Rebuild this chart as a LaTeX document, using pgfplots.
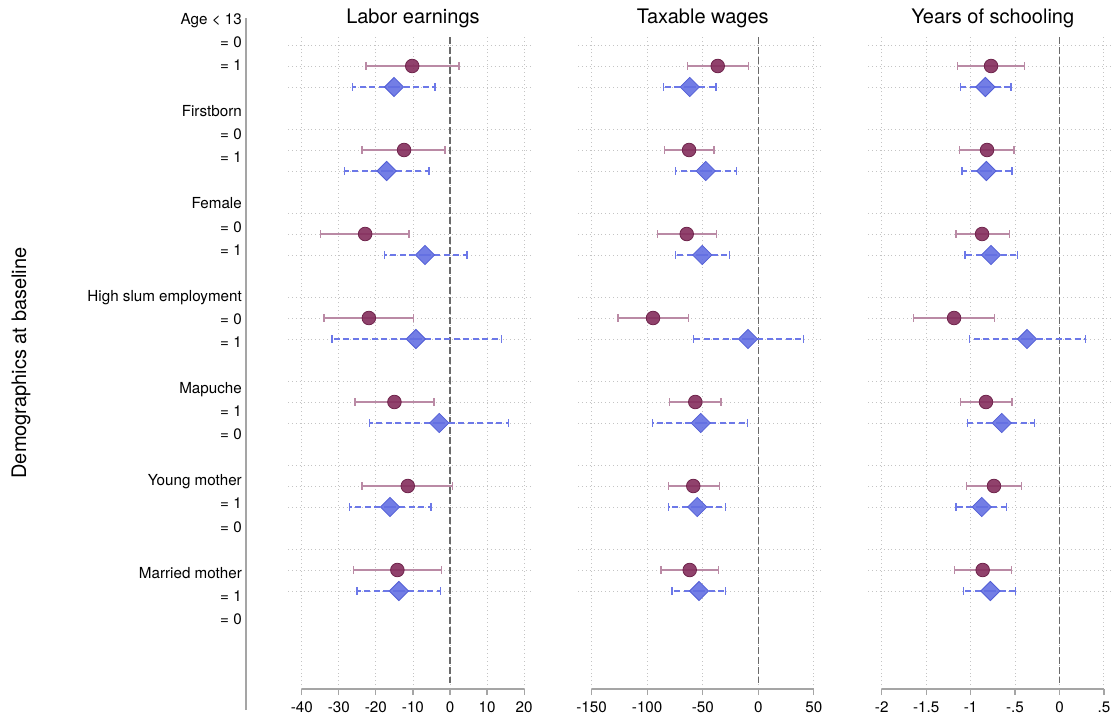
\documentclass[border=0pt]{standalone}
\usepackage{pgfplots}
\pgfplotsset{compat=1.18}
\usepackage{pgfplotstable}
\usepackage{fontspec}
\setmainfont{TeX Gyre Heros}

\definecolor{circfill}{RGB}{132,45,92}
\definecolor{circline}{RGB}{110,35,75}
\definecolor{circci}{RGB}{186,138,165}
\definecolor{diamfill}{RGB}{100,112,226}
\definecolor{diamline}{RGB}{82,94,214}
\definecolor{diamci}{RGB}{108,120,232}
\definecolor{gridc}{RGB}{196,196,196}
\definecolor{axc}{RGB}{165,165,165}
\definecolor{zc}{RGB}{105,105,105}

\newcommand{\lblfont}{\fontsize{15.2bp}{18bp}\selectfont}
\newcommand{\ttlfont}{\fontsize{20bp}{24bp}\selectfont}

% estimate, lower and upper bound of the 95% interval; y = -row
\pgfplotstableread{
y est lo hi
-1  -10.2 -22.7  2.4
-5  -12.4 -23.7 -1.3
-9  -22.9 -35.0 -11.1
-13 -21.9 -34.0 -9.8
-17 -15.0 -25.6 -4.3
-21 -11.4 -23.8  0.6
-25 -14.2 -26.1 -2.3
}\earnA
\pgfplotstableread{
y est lo hi
-2  -15.1 -26.3 -4.0
-6  -17.1 -28.5 -5.7
-10 -6.75 -17.7  4.6
-14 -9.2  -31.9 13.9
-18 -2.9  -21.7 15.8
-22 -16.2 -27.2 -5.1
-26 -13.8 -25.1 -2.5
}\earnB
\pgfplotstableread{
y est lo hi
-1  -36.5 -63.5  -9.0
-5  -62.3 -84.5 -39.8
-9  -64.4 -90.5 -37.8
-13 -94.7 -126.2 -63.0
-17 -56.7 -79.7 -33.6
-21 -58.5 -81.0 -35.1
-25 -61.7 -87.5 -36.0
}\wageA
\pgfplotstableread{
y est lo hi
-2  -61.7 -85.1 -38.0
-6  -47.3 -74.3 -19.8
-10 -50.4 -74.3 -25.7
-14 -9.3  -58.1  40.5
-18 -51.8 -95.0  -9.9
-22 -54.9 -80.6 -29.7
-26 -53.3 -77.6 -29.3
}\wageB
\pgfplotstableread{
y est lo hi
-1  -0.770 -1.145 -0.392
-5  -0.815 -1.122 -0.512
-9  -0.871 -1.164 -0.564
-13 -1.186 -1.644 -0.733
-17 -0.827 -1.115 -0.534
-21 -0.737 -1.044 -0.425
-25 -0.864 -1.183 -0.538
}\schoolA
\pgfplotstableread{
y est lo hi
-2  -0.834 -1.111 -0.545
-6  -0.823 -1.096 -0.534
-10 -0.770 -1.063 -0.470
-14 -0.365 -1.014  0.290
-18 -0.650 -1.037 -0.283
-22 -0.875 -1.164 -0.594
-26 -0.778 -1.082 -0.497
}\schoolB

\pgfplotsset{
  panel/.style={
    scale only axis, width=245bp, height=652bp,
    anchor=south west,
    ymin=-30.667, ymax=0.381,
    axis line style={draw=none},
    ytick={0,-1,-2,-4,-5,-6,-8,-9,-10,-12,-13,-14,-16,-17,-18,-20,-21,-22,-24,-25,-26},
    yticklabels={},
    ytick style={draw=none},
    xmajorgrids, ymajorgrids,
    grid style={gridc, line width=0.9bp, dash pattern=on 0.9bp off 3bp},
    xtick pos=left,
    tick align=outside,
    major tick length=6bp,
    xtick style={axc, line width=1.2bp},
    tick label style={font=\lblfont},
    xticklabel style={anchor=base, inner sep=0pt, yshift=-17.7bp},
    clip=false,
  },
  est circ/.style={
    only marks, mark=*, mark size=6.8bp,
    mark options={fill=circfill, draw=circline, line width=0.8bp, fill opacity=0.9},
    error bars/.cd, x dir=both, x explicit,
    error bar style={circci, line width=1.4bp},
    error mark=|,
    error mark options={circci, mark size=3.6bp, line width=1.4bp},
  },
  est diam/.style={
    only marks, mark=square*, mark size=6.8bp,
    mark options={rotate=45, fill=diamfill, draw=diamline, line width=0.8bp, fill opacity=0.9},
    error bars/.cd, x dir=both, x explicit,
    error bar style={diamci, line width=1.4bp, dash pattern=on 6bp off 3.5bp},
    error mark=|,
    error mark options={diamci, solid, mark size=3.6bp, line width=1.4bp},
  },
}

\newcommand{\ciplot}[2]{%
  \addplot[#1] table[x=est, y=y,
    x error plus expr=\thisrow{hi}-\thisrow{est},
    x error minus expr=\thisrow{est}-\thisrow{lo}] {#2};}

\begin{document}
\begin{tikzpicture}
\path[use as bounding box] (0,0) rectangle (1118bp,-721bp);

% row labels
\begin{axis}[
  scale only axis, width=1bp, height=692bp,
  at={(246bp,-710bp)}, anchor=south west,
  xmin=0, xmax=1, ymin=-29.94, ymax=0.0433,
  axis x line=none, axis y line*=left,
  axis line style={axc, line width=1.3bp},
  ytick={0,-1,-2,-4,-5,-6,-8,-9,-10,-12,-13,-14,-16,-17,-18,-20,-21,-22,-24,-25,-26},
  yticklabels={Age < 13,= 0,= 1,Firstborn,= 0,= 1,Female,= 0,= 1,High slum employment,= 0,= 1,Mapuche,= 1,= 0,Young mother,= 1,= 0,Married mother,= 1,= 0},
  ytick style={draw=none},
  major tick length=0pt,
  yticklabel style={font=\lblfont, anchor=base east, inner sep=0pt, xshift=-4bp, yshift=-5.3bp},
]
\end{axis}
\node[rotate=90, anchor=base, font=\ttlfont] at (26bp,-363bp) {Demographics at baseline};

% Labor earnings
\begin{axis}[panel, at={(288bp,-689bp)},
  xmin=-43.72, xmax=22.40,
  xtick={-40,-30,-20,-10,0,10,20},
  xticklabels={-40,-30,-20,-10,0,10,20}]
\draw[zc, line width=1.3bp, dash pattern=on 7bp off 3bp] (axis cs:0,0.381) -- (axis cs:0,-30.38);
\draw[axc, line width=1.3bp] (axis cs:-40,-30.667) -- (axis cs:20,-30.667);
\node[font=\ttlfont, anchor=base] at (axis cs:-10,0.381) [yshift=13bp] {Labor earnings};
\ciplot{est circ}{\earnA}
\ciplot{est diam}{\earnB}
\end{axis}

% Taxable wages
\begin{axis}[panel, at={(578bp,-689bp)},
  xmin=-162.2, xmax=58.2,
  xtick={-150,-100,-50,0,50},
  xticklabels={-150,-100,-50,0,50}]
\draw[zc, line width=1.3bp, dash pattern=on 7bp off 3bp] (axis cs:0,0.381) -- (axis cs:0,-30.38);
\draw[axc, line width=1.3bp] (axis cs:-150,-30.667) -- (axis cs:50,-30.667);
\node[font=\ttlfont, anchor=base] at (axis cs:-50,0.381) [yshift=13bp] {Taxable wages};
\ciplot{est circ}{\wageA}
\ciplot{est diam}{\wageB}
\end{axis}

% Years of schooling
\begin{axis}[panel, at={(868bp,-689bp)},
  xmin=-2.154, xmax=0.602,
  xtick={-2,-1.5,-1,-0.5,0,0.5},
  xticklabels={-2,-1.5,-1,-.5,0,.5}]
\draw[zc, line width=1.3bp, dash pattern=on 7bp off 3bp] (axis cs:0,0.381) -- (axis cs:0,-30.38);
\draw[axc, line width=1.3bp] (axis cs:-2,-30.667) -- (axis cs:0.5,-30.667);
\node[font=\ttlfont, anchor=base] at (axis cs:-0.75,0.381) [yshift=13bp] {Years of schooling};
\ciplot{est circ}{\schoolA}
\ciplot{est diam}{\schoolB}
\end{axis}
\end{tikzpicture}
\end{document}
